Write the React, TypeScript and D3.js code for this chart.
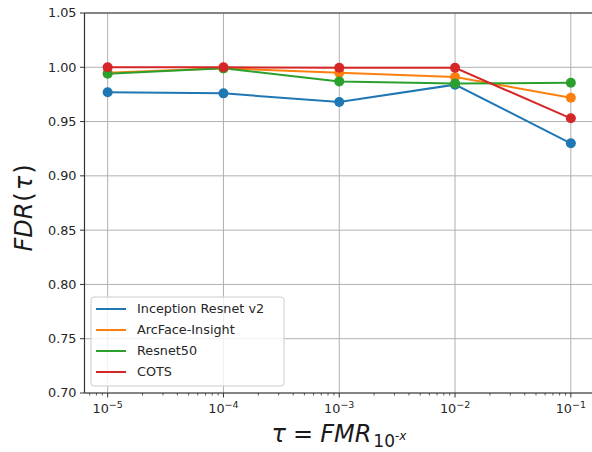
import React from "react";
import * as d3 from "d3";

const xExps = [-5, -4, -3, -2, -1];
const seriesNames = ["Inception Resnet v2", "ArcFace-Insight", "Resnet50", "COTS"];
const seriesColors = ["#1f77b4", "#ff7f0e", "#2ca02c", "#d62728"];
const inception = [0.977, 0.976, 0.968, 0.984, 0.930];
const arcface = [0.995, 0.999, 0.995, 0.991, 0.972];
const resnet50 = [0.994, 0.999, 0.987, 0.985, 0.9857];
const cots = [1.0, 1.0, 0.9995, 0.9995, 0.953];
const yTicks = [0.7, 0.75, 0.8, 0.85, 0.9, 0.95, 1.0, 1.05];

const W = 592, H = 452;
const L = 84.5, R = 594, T = 13, B = 393;

export default function App() {
  const x = d3.scaleLog().domain([Math.pow(10, -5.2), Math.pow(10, -0.8)]).range([L, R]);
  const y = d3.scaleLinear().domain([0.7, 1.05]).range([B, T]);
  const all = [inception, arcface, resnet50, cots];
  const line = d3.line<number>().x((_, i) => x(Math.pow(10, xExps[i]))).y((d) => y(d));
  const minor: number[] = [];
  for (let e = -6; e <= 0; e++) for (let k = 2; k <= 9; k++) {
    const v = k * Math.pow(10, e);
    if (v >= x.domain()[0] && v <= x.domain()[1]) minor.push(v);
  }
  const font = "DejaVu Sans";
  return (
    <svg width={W} height={H} style={{ position: "absolute", left: 0, top: 0 }} fontFamily={font}>
      <rect width={W} height={H} fill="white" />
      <defs>
        <clipPath id="clip"><rect x={L} y={T} width={R - L} height={B - T} /></clipPath>
      </defs>
      {yTicks.map((t) => (
        <line key={"gy" + t} x1={L} x2={R} y1={y(t)} y2={y(t)} stroke="#b0b0b0" strokeWidth={1} />
      ))}
      {xExps.map((e) => (
        <line key={"gx" + e} x1={x(Math.pow(10, e))} x2={x(Math.pow(10, e))} y1={T} y2={B} stroke="#b0b0b0" strokeWidth={1} />
      ))}
      <g clipPath="url(#clip)">
        {all.map((s, i) => (
          <path key={"l" + i} d={line(s) || ""} fill="none" stroke={seriesColors[i]} strokeWidth={2} />
        ))}
        {all.map((s, i) =>
          s.map((v, j) => (
            <circle key={"c" + i + "-" + j} cx={x(Math.pow(10, xExps[j]))} cy={y(v)} r={5} fill={seriesColors[i]} />
          ))
        )}
      </g>
      <line x1={L} x2={L} y1={T} y2={B} stroke="#333" strokeWidth={1.2} />
      <line x1={L} x2={R} y1={B} y2={B} stroke="#333" strokeWidth={1.2} />
      <line x1={L} x2={R} y1={T} y2={T} stroke="#333" strokeWidth={1.2} />
      {yTicks.map((t) => (
        <g key={"yt" + t}>
          <line x1={L - 4.5} x2={L} y1={y(t)} y2={y(t)} stroke="#333" strokeWidth={1} />
          <text x={L - 8} y={y(t)} dy="0.35em" textAnchor="end" fontSize={12.8} fill="#262626">{t.toFixed(2)}</text>
        </g>
      ))}
      {xExps.map((e) => (
        <g key={"xt" + e}>
          <line x1={x(Math.pow(10, e))} x2={x(Math.pow(10, e))} y1={B} y2={B + 4.5} stroke="#333" strokeWidth={1} />
          <text x={x(Math.pow(10, e))} y={B + 20} textAnchor="middle" fontSize={12.8} fill="#262626">
            10<tspan dy={-5} fontSize={9.5}>{"\u2212" + Math.abs(e)}</tspan>
          </text>
        </g>
      ))}
      {minor.map((v, i) => (
        <line key={"mt" + i} x1={x(v)} x2={x(v)} y1={B} y2={B + 2.5} stroke="#333" strokeWidth={0.8} />
      ))}
      <text transform={`translate(32,208) rotate(-90)`} textAnchor="middle" fontSize={24} fill="#1a1a1a">
        <tspan fontStyle="italic">FDR</tspan>
        <tspan dx={1}>(</tspan>
        <tspan dx={2} fontStyle="italic">τ</tspan>
        <tspan dx={2}>)</tspan>
      </text>
      <text x={339} y={442} textAnchor="middle" fontSize={24} fill="#1a1a1a">
        <tspan fontStyle="italic">τ</tspan>
        <tspan dx={7}>=</tspan>
        <tspan dx={7} fontStyle="italic">FMR</tspan>
        <tspan dx={2} dy={5} fontSize={17}>10</tspan>
        <tspan dy={-7} fontSize={12}>-</tspan>
        <tspan fontSize={12} fontStyle="italic">x</tspan>
      </text>
      <g>
        <rect x={91} y={297} width={193} height={89} rx={3} fill="white" fillOpacity={0.8} stroke="#cccccc" />
        {seriesNames.map((n, i) => (
          <g key={"lg" + i}>
            <line x1={96} x2={126} y1={309 + i * 21} y2={309 + i * 21} stroke={seriesColors[i]} strokeWidth={2} />
            <text x={137} y={309 + i * 21} dy="0.35em" fontSize={12.8} fill="#262626">{n}</text>
          </g>
        ))}
      </g>
    </svg>
  );
}
